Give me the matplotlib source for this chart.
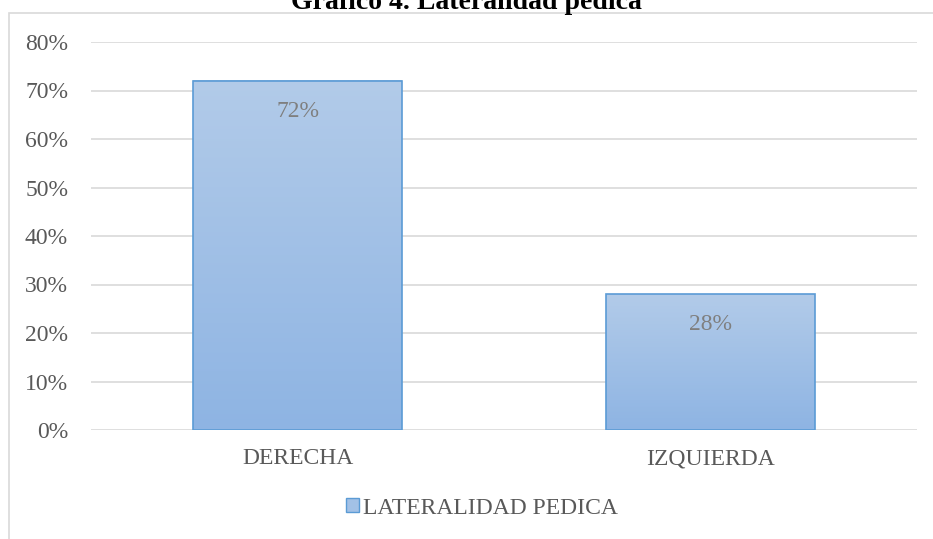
import numpy as np
import matplotlib.pyplot as plt
from matplotlib.patches import Rectangle, Patch
from matplotlib.colors import LinearSegmentedColormap

# data
categories = ["DERECHA", "IZQUIERDA"]
values = [0.72, 0.28]
labels = ["72%", "28%"]
yticks = [0.0, 0.1, 0.2, 0.3, 0.4, 0.5, 0.6, 0.7, 0.8]
series_name = "LATERALIDAD PEDICA"
title = "Gráfico 4. Lateralidad pedica"

plt.rcParams['font.family'] = ['Liberation Serif', 'DejaVu Serif']

fig = plt.figure(figsize=(9.33, 5.39), dpi=100)
ax = fig.add_axes([91 / 933, 1 - 430 / 539, 826 / 933, 388 / 539])

# chart frame (cut off at right and bottom)
frame = Rectangle((9 / 933, -0.1), 1.2, 1 - 13 / 539 + 0.1, transform=fig.transFigure,
                  fill=False, edgecolor='#D9D9D9', linewidth=1.2)
fig.add_artist(frame)

# bars with vertical gradient fill
grad = LinearSegmentedColormap.from_list("g", ["#8EB4E3", "#B2CBE9"])
x = np.arange(len(categories))
width = 0.504
bars = ax.bar(x, values, width=width, color='none', edgecolor='#5B9BD5', linewidth=1.2, zorder=3)
for b in bars:
    x0, y0 = b.get_x(), b.get_y()
    w, h = b.get_width(), b.get_height()
    ax.imshow(np.linspace(0, 1, 256).reshape(-1, 1), cmap=grad, origin='lower',
              extent=[x0, x0 + w, y0, y0 + h], aspect='auto', zorder=2)

for xi, v, lab in zip(x, values, labels):
    ax.annotate(lab, (xi, v), xytext=(0, -22), textcoords='offset points',
                ha='center', va='center', fontsize=17, color='#7F7F7F', zorder=4)

ax.set_xlim(-0.5, len(categories) - 0.5)
ax.set_ylim(0, 0.8)
ax.set_yticks(yticks)
ax.set_yticklabels([f"{int(round(t * 100))}%" for t in yticks])
ax.set_xticks(x)
ax.set_xticklabels(categories)
ax.tick_params(axis='y', length=0, pad=16.5, labelsize=17, labelcolor='#595959')
ax.tick_params(axis='x', length=0, pad=13, labelsize=17, labelcolor='#595959')
ax.grid(axis='y', color='#D9D9D9', linewidth=1.2, zorder=0)
ax.set_axisbelow(True)
for s in ax.spines.values():
    s.set_visible(False)

# title, mostly cut off at the top like the source
fig.text(0.5, 1 - 9 / 539, title, ha='center', va='baseline', fontsize=20,
         fontweight='bold', color='black')

handle = Patch(facecolor='#A3C1E6', edgecolor='#5B9BD5', linewidth=1.0)
fig.legend([handle], [series_name], loc='center', bbox_to_anchor=(482 / 933, 1 - 508 / 539),
           frameon=False, fontsize=17, handlelength=0.55, handleheight=0.55, handletextpad=0.2,
           labelcolor='#595959', borderpad=0, borderaxespad=0)

fig.savefig("out.png", dpi=100)
